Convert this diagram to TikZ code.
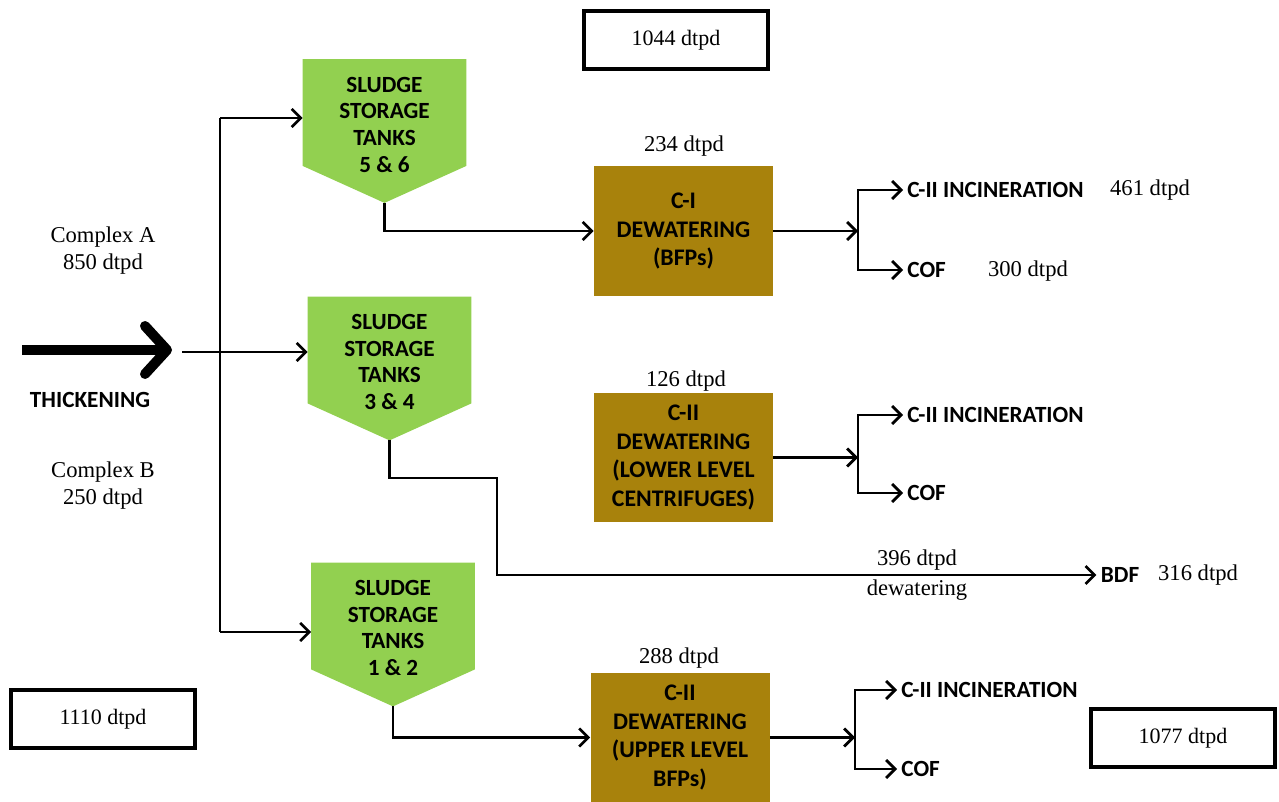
\documentclass[tikz,border=0pt]{standalone}
\usepackage{fontspec}
\setmainfont{Liberation Serif}
\newfontfamily\calib{Carlito}
\usepackage{tikz}
\usetikzlibrary{arrows.meta,backgrounds}
\definecolor{tankgreen}{HTML}{92D050}
\definecolor{dewbrown}{HTML}{A8820C}
\definecolor{framegray}{HTML}{8C8C8C}

\begin{document}
\begin{tikzpicture}[x=0.5pt,y=-0.5pt,tank/.style={align=center,font=\calib\bfseries\fontsize{11.6}{13.3}\selectfont,minimum width=81.5pt,minimum height=71.5pt,inner sep=0pt,text depth=6.5pt},dew/.style={fill=dewbrown,align=center,font=\calib\bfseries\fontsize{11.9}{14.2}\selectfont,minimum width=89.5pt,minimum height=64.5pt,inner sep=0pt},tot/.style={draw=framegray,double=black,double distance=1.6pt,line width=0.4pt,fill=white,minimum width=92pt,minimum height=29pt,font=\fontsize{11}{13}\selectfont},rate/.style={font=\fontsize{11.3}{13.5}\selectfont,align=center,inner sep=1pt},dest/.style={font=\calib\bfseries\fontsize{11.6}{13}\selectfont,inner sep=2pt},flow/.style={-{Straight Barb[length=4.5pt,width=9pt]},line width=1.35pt},pipe/.style={line width=1.35pt},feed/.style={-{Straight Barb[length=11pt,width=24pt,round]},line width=5pt}]
\useasboundingbox (0,0) rectangle (1279,802);
\node[tot] (sum56) at (676,40) {1044 dtpd};
\node[tot] (sumin) at (103,719) {1110 dtpd};
\node[tot] (sumout) at (1183,738) {1077 dtpd};
\node[rate] (cxa) at (103,251) {Complex A\\850 dtpd};
\node[rate] (cxb) at (103,486) {Complex B\\250 dtpd};
\node[dest] (thk) at (90,400) {THICKENING};
\node[tank] (t56) at (384.5,131) {SLUDGE\\STORAGE\\TANKS\\5 \& 6};
\node[tank] (t34) at (389.5,368.5) {SLUDGE\\STORAGE\\TANKS\\3 \& 4};
\node[tank] (t12) at (393,634.5) {SLUDGE\\STORAGE\\TANKS\\1 \& 2};
\node[dew] (dw1) at (683.5,231) {C-I\\DEWATERING\\(BFPs)};
\node[dew] (dw2) at (683.5,457.5) {C-II\\DEWATERING\\(LOWER LEVEL\\CENTRIFUGES)};
\node[dew] (dw3) at (680,737.5) {C-II\\DEWATERING\\(UPPER LEVEL\\BFPs)};
\node[rate] (r1) at (684,146) {234 dtpd};
\node[rate] (r2) at (686,381) {126 dtpd};
\node[rate] (r3) at (679,658) {288 dtpd};
\node[dest,anchor=west] (inc1) at (903,190) {C-II INCINERATION};
\node[dest,anchor=west] (cof1) at (903,270) {COF};
\node[rate] (inc1r) at (1150,190) {461 dtpd};
\node[rate] (cof1r) at (1028,271) {300 dtpd};
\node[dest,anchor=west] (inc2) at (903,415) {C-II INCINERATION};
\node[dest,anchor=west] (cof2) at (903,493) {COF};
\node[dest,anchor=west] (inc3) at (897,690) {C-II INCINERATION};
\node[dest,anchor=west] (cof3) at (897,769) {COF};
\node[dest] (bdf) at (1120,575) {BDF};
\node[rate] (bdfr) at (1198,575) {316 dtpd};
\node[rate,font=\fontsize{11.3}{15}\selectfont] (bdfnote) at (917,575) {396 dtpd\\dewatering};
\coordinate (thkbeg) at (22,350);
\coordinate (thkend) at (172,350);
\coordinate (split) at (182,352);
\coordinate (trtop) at (220,118);
\coordinate (trbot) at (220,632);
\coordinate (bend) at (497,478);
\coordinate (j1) at (858,231);
\coordinate (j2) at (858,457.5);
\coordinate (j3) at (855,737.5);
\begin{scope}[on background layer]
\foreach \t in {t56,t34,t12}
\fill[tankgreen] (\t.north west) -- (\t.north east) -- ([yshift=18.5pt]\t.south east) -- (\t.south) -- ([yshift=18.5pt]\t.south west) -- cycle;
\end{scope}
\draw[feed] (thkbeg) -- (thkend);
\draw[pipe] (trtop) -- (trbot);
\draw[flow] (trtop) -- (trtop -| t56.west);
\draw[flow] (split) -- (split -| t34.west);
\draw[flow] (trbot) -- (trbot -| t12.west);
\draw[flow] (t56.south) |- (dw1.west);
\draw[flow] (t12.south) |- (dw3.west);
\draw[flow] (t34.south) |- (bend) |- (bdf.west);
\draw[flow] (dw1) -- (j1);
\draw[flow] (j1) |- (inc1.west);
\draw[flow] (j1) |- (cof1.west);
\draw[flow] (dw2) -- (j2);
\draw[flow] (j2) |- (inc2.west);
\draw[flow] (j2) |- (cof2.west);
\draw[flow] (dw3) -- (j3);
\draw[flow] (j3) |- (inc3.west);
\draw[flow] (j3) |- (cof3.west);
\end{tikzpicture}
\end{document}
